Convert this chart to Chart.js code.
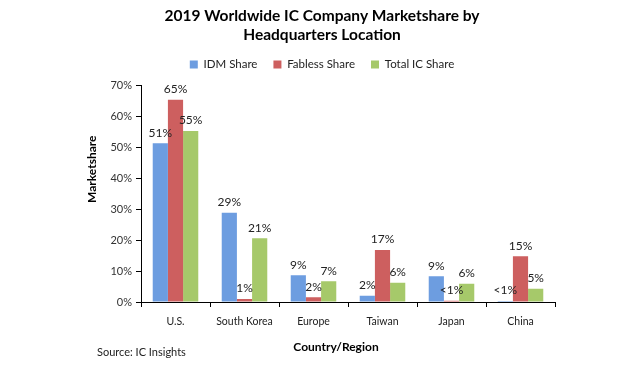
<!DOCTYPE html>
<html>
<head>
<meta charset="utf-8">
<script src="https://cdn.jsdelivr.net/npm/chart.js@4"></script>
<style>
html,body{margin:0;padding:0;background:#fff;}
#wrap{width:620px;height:365px;position:relative;}
</style>
</head>
<body>
<div id="wrap"><canvas id="c" width="620" height="365"></canvas></div>
<script>
const categories = ["U.S.", "South Korea", "Europe", "Taiwan", "Japan", "China"];
const idmShare = [51.3, 28.8, 8.6, 2.0, 8.3, 0.3];
const fablessShare = [65.3, 1.0, 1.5, 16.8, 0.4, 14.8];
const totalShare = [55.2, 20.6, 6.7, 6.2, 5.9, 4.3];
const idmLabels = ["51%", "29%", "9%", "2%", "9%", "<1%"];
const fablessLabels = ["65%", "1%", "2%", "17%", "<1%", "15%"];
const totalLabels = ["55%", "21%", "7%", "6%", "6%", "5%"];
const yTickValues = [0, 10, 20, 30, 40, 50, 60, 70];

const FONT = "Lato, 'Open Sans', sans-serif";

const barLabels = {
  id: 'barLabels',
  afterDatasetsDraw(chart) {
    const ctx = chart.ctx;
    ctx.save();
    ctx.font = "12px " + FONT;
    ctx.fillStyle = "#222";
    ctx.textAlign = "center";
    ctx.textBaseline = "middle";
    chart.data.datasets.forEach((ds, di) => {
      const meta = chart.getDatasetMeta(di);
      meta.data.forEach((el, i) => {
        ctx.fillText(ds.valueLabels[i], el.x, el.y - 10.5);
      });
    });
    ctx.restore();
  }
};

const legendSpace = {
  id: 'legendSpace',
  beforeLayout(chart) {
    const lg = chart.legend;
    if (lg && !lg._patched) {
      const f = lg.fit.bind(lg);
      lg.fit = function () { f(); this.height += 5; };
      lg._patched = true;
    }
  }
};

const extraText = {
  id: 'extraText',
  afterDraw(chart) {
    const ctx = chart.ctx;
    const a = chart.chartArea;
    ctx.save();
    ctx.fillStyle = "#000";
    ctx.font = "bold 12px " + FONT;
    ctx.textAlign = "center";
    ctx.textBaseline = "middle";
    ctx.fillText("Country/Region", a.left + 195, a.bottom + 45);
    ctx.save();
    ctx.translate(a.left - 49, a.top + 84);
    ctx.rotate(-Math.PI / 2);
    ctx.fillText("Marketshare", 0, 0);
    ctx.restore();
    ctx.font = "11px " + FONT;
    ctx.textAlign = "left";
    ctx.fillStyle = "#222";
    ctx.fillText("Source: IC Insights", 97, 352);
    ctx.restore();
  }
};

new Chart(document.getElementById('c'), {
  type: 'bar',
  data: {
    labels: categories,
    datasets: [
      { label: "IDM Share", data: idmShare, valueLabels: idmLabels, backgroundColor: "#6d9de0" },
      { label: "Fabless Share", data: fablessShare, valueLabels: fablessLabels, backgroundColor: "#cd5f5f" },
      { label: "Total IC Share", data: totalShare, valueLabels: totalLabels, backgroundColor: "#a6c96a" }
    ]
  },
  options: {
    responsive: false,
    animation: false,
    events: [],
    layout: { padding: { left: 24, right: 0, top: 0, bottom: 0 } },
    datasets: { bar: { categoryPercentage: 0.66, barPercentage: 1.0 } },
    plugins: {
      title: {
        display: true,
        text: ["2019 Worldwide IC Company Marketshare by", "Headquarters Location"],
        color: "#000",
        font: { family: FONT, size: 15.5, weight: "bold", lineHeight: 1.25 },
        padding: { top: 6, bottom: -2 }
      },
      legend: {
        display: true,
        labels: {
          boxWidth: 8, boxHeight: 8, padding: 16,
          color: "#222",
          font: { family: FONT, size: 11.5 }
        }
      },
      tooltip: { enabled: false }
    },
    scales: {
      x: {
        grid: { display: true, drawOnChartArea: false, drawTicks: true, tickLength: 5, color: "#000", offset: true },
        border: { display: true, color: "#000", width: 1 },
        ticks: { color: "#222", font: { family: FONT, size: 10.5 }, padding: 8, maxRotation: 0 },
        afterFit(scale) { scale.height = 63; }
      },
      y: {
        min: 0, max: 70,
        afterBuildTicks(scale) { scale.ticks = yTickValues.map(v => ({ value: v })); },
        grid: { display: true, drawOnChartArea: false, drawTicks: true, tickLength: 5, color: "#000" },
        border: { display: true, color: "#000", width: 1 },
        ticks: { color: "#333", font: { family: FONT, size: 11 }, padding: 4, callback: v => v + "%" },
        afterFit(scale) { scale.width = 117; }
      },
      yRight: {
        position: 'right',
        display: true,
        grid: { display: false },
        border: { display: false },
        ticks: { display: false },
        afterFit(scale) { scale.width = 65; }
      }
    }
  },
  plugins: [barLabels, legendSpace, extraText]
});
</script>
</body>
</html>
